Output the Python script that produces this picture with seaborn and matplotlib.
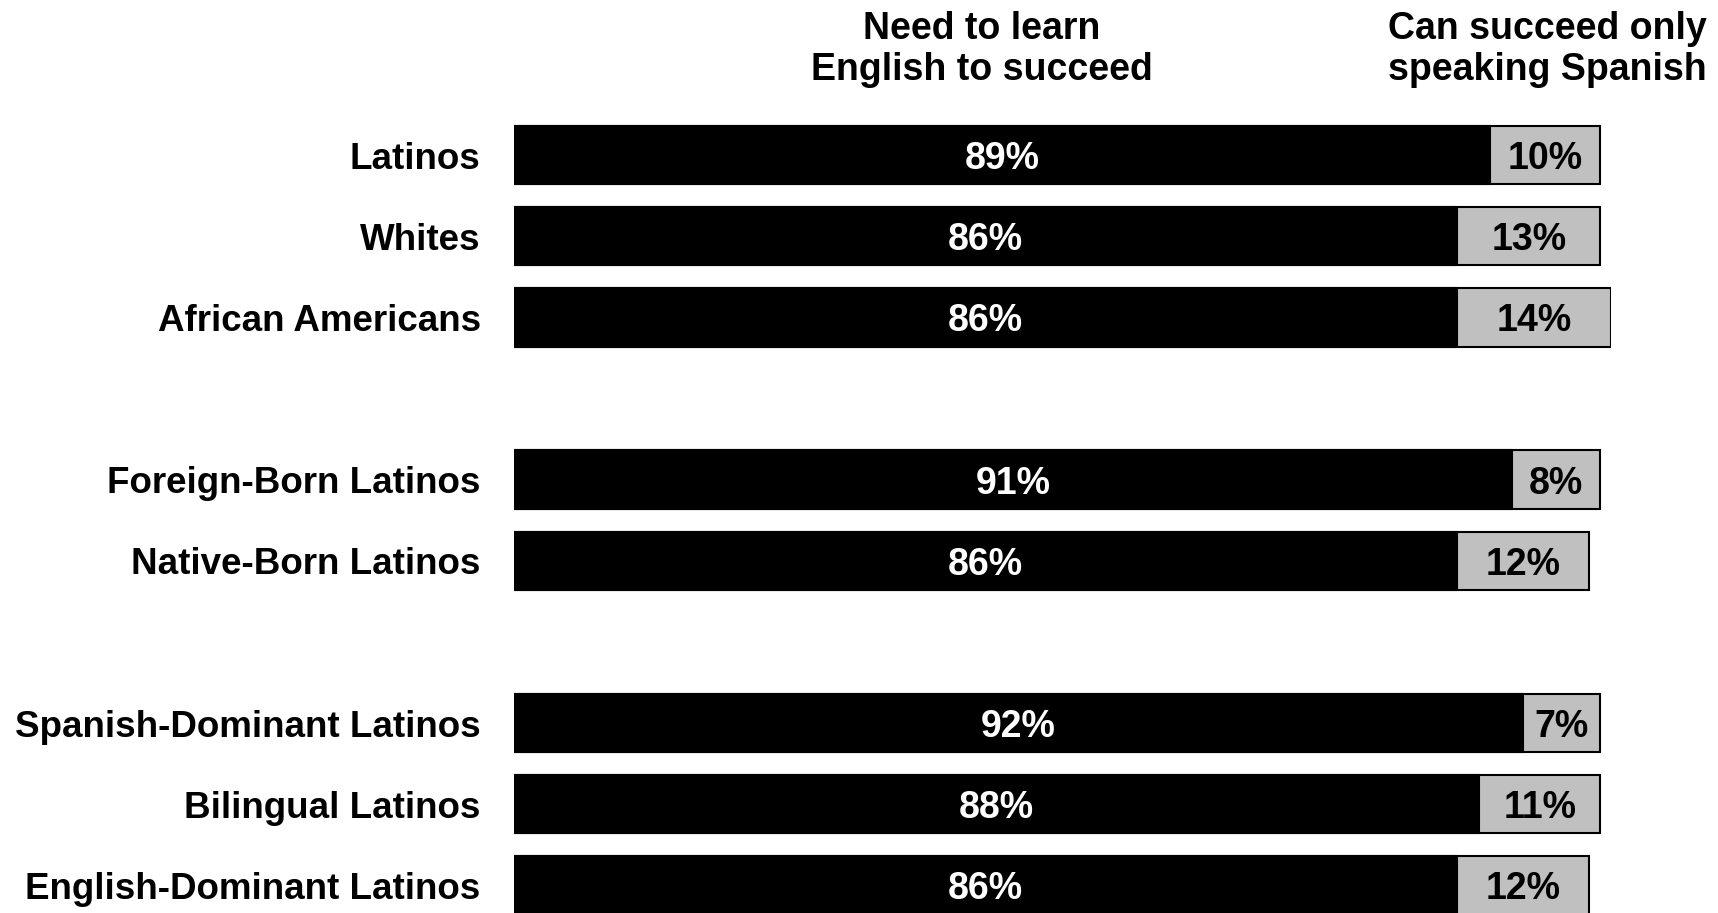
import pandas as pd
import seaborn as sns
import matplotlib.pyplot as plt

# Data
categories = ['Latinos', 'Whites', 'African Americans',
              'Foreign-Born Latinos', 'Native-Born Latinos',
              'Spanish-Dominant Latinos', 'Bilingual Latinos', 'English-Dominant Latinos']
need_english = [89, 86, 86, 91, 86, 92, 88, 86]
spanish_only = [10, 13, 14, 8, 12, 7, 11, 12]

df = pd.DataFrame({'group': categories, 'need': need_english, 'spanish': spanish_only})
df['total'] = df['need'] + df['spanish']

# blank slots separate the three groups
order = categories[0:3] + [' '] + categories[3:5] + ['  '] + categories[5:8]

sns.set_style('white')
plt.rcParams['font.family'] = ['Liberation Sans', 'DejaVu Sans']
plt.rcParams['text.color'] = 'black'
plt.rcParams['ytick.labelcolor'] = 'black'

fig = plt.figure(figsize=(17.18, 9.13), dpi=100)
ax = fig.add_axes([514 / 1718, 0, (1611 - 514) / 1718, 1 - 114.5 / 913])

# gray total bar underneath, black "need" bar on top
sns.barplot(data=df, x='total', y='group', order=order, color='#c0c0c0',
            edgecolor='black', linewidth=1.5, width=0.72, saturation=1, ax=ax)
sns.barplot(data=df, x='need', y='group', order=order, color='black',
            edgecolor='black', linewidth=1.5, width=0.72, saturation=1, ax=ax)

ax.set_xlim(0, 100)
ax.set_ylim(9.34, -0.5)
ax.set_xlabel('')
ax.set_ylabel('')
ax.set_xticks([])
sns.despine(ax=ax, left=True, bottom=True)
ax.tick_params(axis='y', length=0, pad=24, labelsize=26.5, labelcolor='black')
for lab in ax.get_yticklabels():
    lab.set_fontweight('bold')
    lab.set_y(lab.get_position()[1])

for _, row in df.iterrows():
    y = order.index(row['group'])
    ax.text(row['need'] / 2, y, f"{row['need']}%", color='white', fontsize=27,
            fontweight='bold', ha='center', va='center_baseline')
    ax.text(row['need'] + row['spanish'] / 2, y, f"{row['spanish']}%", color='black',
            fontsize=27, fontweight='bold', ha='center', va='center_baseline')

head_font = ['Liberation Sans Narrow', 'Liberation Sans', 'DejaVu Sans']
fig.text(982 / 1718, 1 - 49.5 / 913, 'Need to learn\nEnglish to succeed', family=head_font,
         fontsize=27, fontweight='bold', ha='center', va='center', multialignment='center',
         color='black')
fig.text(1707 / 1718, 1 - 49.5 / 913, 'Can succeed only\nspeaking Spanish', family=head_font,
         fontsize=27, fontweight='bold', ha='right', va='center', multialignment='right',
         color='black')

fig.savefig('out.png', dpi=100)
